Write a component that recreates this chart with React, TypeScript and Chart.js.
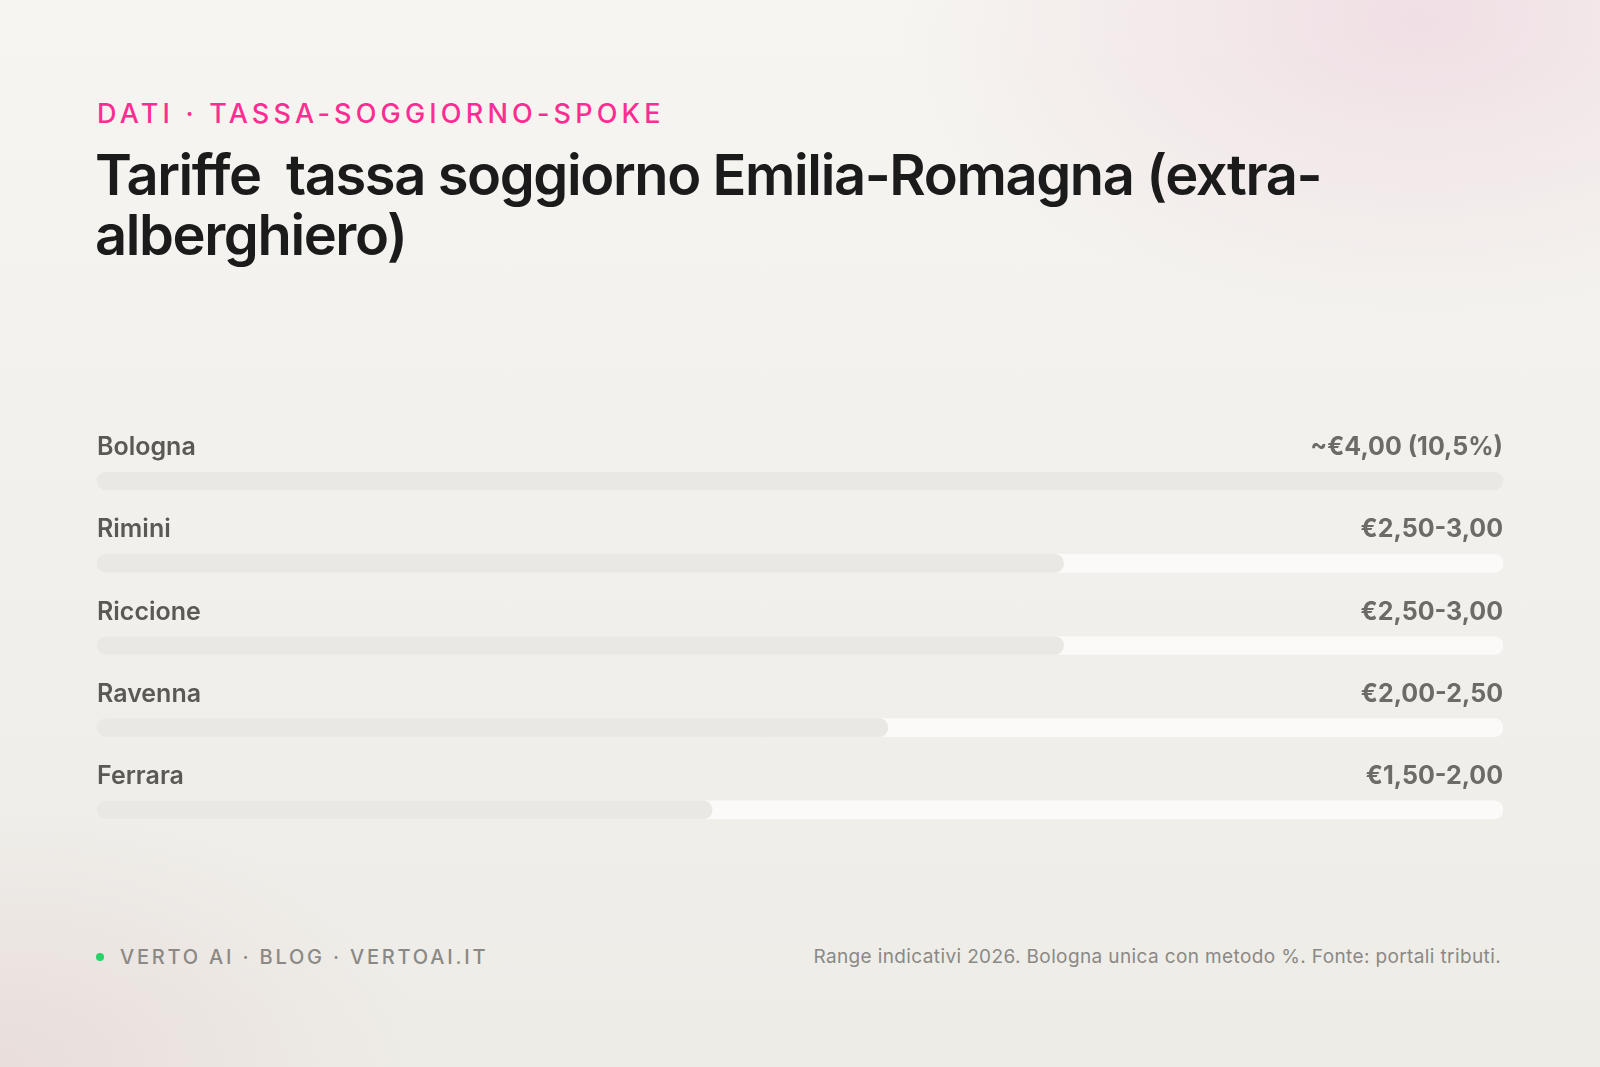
import { useEffect, useRef } from "react";
import { Chart, registerables } from "chart.js";

Chart.register(...registerables);

// Data
const cities = ["Bologna", "Rimini", "Riccione", "Ravenna", "Ferrara"];
const rateLabels = [
  "~€4,00 (10,5%)",
  "€2,50-3,00",
  "€2,50-3,00",
  "€2,00-2,50",
  "€1,50-2,00",
];
// midpoint of each range, in euro per night
const rateValues = [4.0, 2.75, 2.75, 2.25, 1.75];
const scaleMax = 4.0;

const FONT = "Inter, 'Noto Sans', sans-serif";

// draws the city name (left) and the range text (right) above each bar
const rowLabels = {
  id: "rowLabels",
  afterDatasetsDraw(chart: Chart) {
    const { ctx, chartArea } = chart;
    const meta = chart.getDatasetMeta(0);
    ctx.save();
    ctx.textBaseline = "alphabetic";
    meta.data.forEach((bar: any, i: number) => {
      const y = bar.y - 26;
      ctx.font = `600 25px ${FONT}`;
      ctx.fillStyle = "#5a5955";
      ctx.textAlign = "left";
      ctx.fillText(cities[i], chartArea.left, y);
      ctx.font = `700 25px ${FONT}`;
      ctx.fillStyle = "#6c6b67";
      ctx.textAlign = "right";
      ctx.fillText(rateLabels[i], chartArea.right, y);
    });
    ctx.restore();
  },
};

function RateBars() {
  const canvasRef = useRef<HTMLCanvasElement>(null);
  const chartRef = useRef<Chart | null>(null);

  useEffect(() => {
    if (!canvasRef.current) return;
    if (chartRef.current) chartRef.current.destroy();

    chartRef.current = new Chart(canvasRef.current, {
      type: "bar",
      data: {
        labels: cities,
        datasets: [
          {
            label: "Tariffa",
            data: rateValues,
            backgroundColor: "#e9e8e4",
            borderRadius: 9,
            borderSkipped: false,
            barThickness: 18,
            grouped: false,
            order: 0,
          },
          {
            label: "Scala",
            data: cities.map(() => scaleMax),
            backgroundColor: "#fbfaf8",
            borderRadius: 9,
            borderSkipped: false,
            barThickness: 18,
            grouped: false,
            order: 1,
          },
        ],
      },
      options: {
        indexAxis: "y",
        animation: false,
        responsive: false,
        maintainAspectRatio: false,
        // top padding leaves room for the first row's labels
        layout: { padding: { top: 30, left: 0, right: 0, bottom: 0 } },
        plugins: {
          legend: { display: false },
          tooltip: { enabled: false },
        },
        scales: {
          x: { display: false, min: 0, max: scaleMax },
          y: { display: false },
        },
      },
      plugins: [rowLabels],
    });

    return () => {
      if (chartRef.current) {
        chartRef.current.destroy();
        chartRef.current = null;
      }
    };
  }, []);

  return (
    <canvas
      ref={canvasRef}
      width={1406}
      height={441}
      style={{ position: "absolute", left: 97, top: 410, width: 1406, height: 441 }}
    />
  );
}

export default function App() {
  return (
    <div
      style={{
        position: "fixed",
        left: 0,
        top: 0,
        width: 1600,
        height: 1067,
        overflow: "hidden",
        fontFamily: FONT,
        background:
          "radial-gradient(ellipse 520px 300px at 1420px 20px, rgba(240,222,228,0.95), rgba(240,222,228,0) 100%)," +
          "radial-gradient(ellipse 420px 260px at 0px 1067px, rgba(232,220,218,0.9), rgba(232,220,218,0) 100%)," +
          "linear-gradient(180deg, #f6f5f1 0%, #f1f0ec 50%, #eeece7 100%)",
      }}
    >
      <div
        style={{
          position: "absolute",
          left: 97,
          top: 100,
          fontSize: 27,
          lineHeight: "27px",
          fontWeight: 500,
          letterSpacing: "0.155em",
          color: "#ff2d92",
          whiteSpace: "pre",
        }}
      >
        DATI · TASSA-SOGGIORNO-SPOKE
      </div>
      <div
        style={{
          position: "absolute",
          left: 95,
          top: 145,
          fontSize: 56,
          lineHeight: "60px",
          fontWeight: 600,
          letterSpacing: "-0.025em",
          color: "#1b1b1b",
          whiteSpace: "pre",
        }}
      >
        {"Tariffe  tassa soggiorno Emilia-Romagna (extra-"}
        <br />
        {"alberghiero)"}
      </div>

      <RateBars />

      <div
        style={{
          position: "absolute",
          left: 96,
          top: 953,
          width: 8,
          height: 8,
          borderRadius: 4,
          background: "#25d366",
        }}
      />
      <div
        style={{
          position: "absolute",
          left: 120,
          top: 947,
          fontSize: 20,
          lineHeight: "20px",
          fontWeight: 500,
          letterSpacing: "0.14em",
          color: "#8a8985",
          whiteSpace: "pre",
        }}
      >
        VERTO AI · BLOG · VERTOAI.IT
      </div>
      <div
        style={{
          position: "absolute",
          right: 99,
          top: 947,
          fontSize: 19,
          lineHeight: "20px",
          fontWeight: 400,
          letterSpacing: "0.02em",
          color: "#8a8985",
          whiteSpace: "pre",
        }}
      >
        Range indicativi 2026. Bologna unica con metodo %. Fonte: portali tributi.
      </div>
    </div>
  );
}
